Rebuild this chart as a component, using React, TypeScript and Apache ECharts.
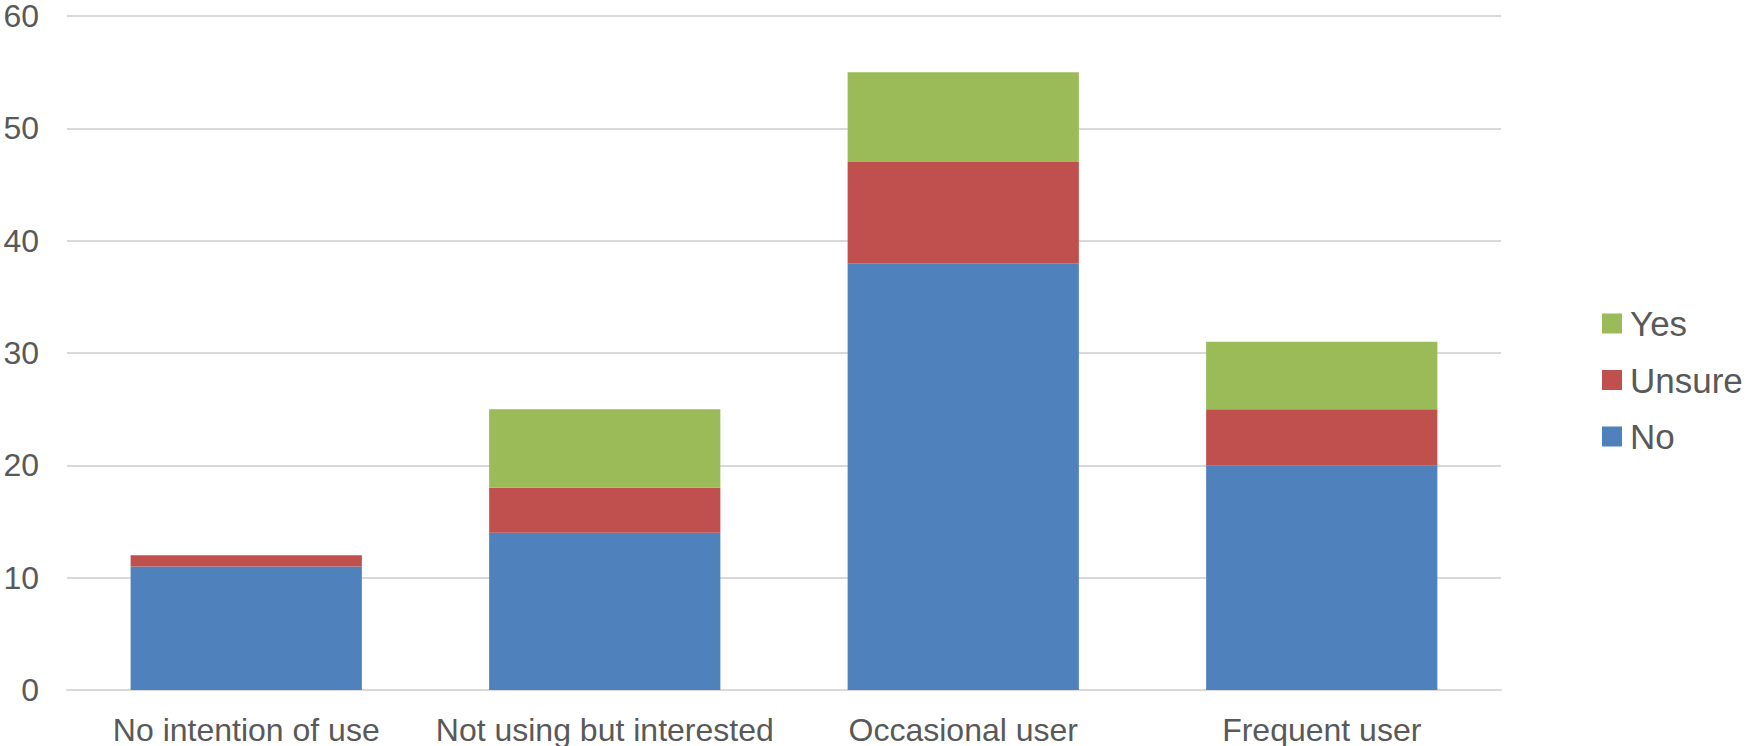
import React, { useEffect, useRef } from "react";
import * as echarts from "echarts";

const categories = [
  "No intention of use",
  "Not using but interested",
  "Occasional user",
  "Frequent user",
];
const noValues = [11, 14, 38, 20];
const unsureValues = [1, 4, 9, 5];
const yesValues = [0, 7, 8, 6];
const legendOrder = ["Yes", "Unsure", "No"];

const FONT = "'Liberation Sans', Arial, sans-serif";
const TEXT = "#595959";

export default function App() {
  const ref = useRef<HTMLDivElement>(null);
  useEffect(() => {
    if (!ref.current) return;
    const chart = echarts.init(ref.current, undefined, { renderer: "svg" });
    chart.setOption({
      animation: false,
      textStyle: { fontFamily: FONT },
      grid: { left: 67, right: 251, top: 15, bottom: 53, containLabel: false },
      legend: {
        data: legendOrder,
        orient: "vertical",
        left: 1602,
        top: 306,
        padding: 0,
        itemWidth: 20,
        itemHeight: 20,
        itemGap: 21.5,
        icon: "rect",
        textStyle: { color: TEXT, fontSize: 35, lineHeight: 35, fontFamily: FONT, padding: [0, 0, 0, 3] },
      },
      xAxis: {
        type: "category",
        data: categories,
        axisLine: { show: true, lineStyle: { color: "#D9D9D9", width: 2 } },
        axisTick: { show: false },
        axisLabel: { color: TEXT, fontSize: 32, lineHeight: 32, margin: 24, fontFamily: FONT, interval: 0 },
      },
      yAxis: {
        type: "value",
        min: 0,
        max: 60,
        interval: 10,
        axisLine: { show: false },
        axisTick: { show: false },
        splitLine: { lineStyle: { color: "#D9D9D9", width: 2 } },
        axisLabel: { color: TEXT, fontSize: 32, lineHeight: 26, margin: 28, fontFamily: FONT },
      },
      series: [
        { name: "No", type: "bar", stack: "s", data: noValues, barWidth: "64.5%", itemStyle: { color: "#4F81BD" } },
        { name: "Unsure", type: "bar", stack: "s", data: unsureValues, itemStyle: { color: "#C0504D" } },
        { name: "Yes", type: "bar", stack: "s", data: yesValues, itemStyle: { color: "#9BBB59" } },
      ],
    });
    return () => chart.dispose();
  }, []);
  return (
    <div
      ref={ref}
      style={{ position: "fixed", left: 0, top: 0, width: 1752, height: 746, background: "#fff" }}
    />
  );
}
